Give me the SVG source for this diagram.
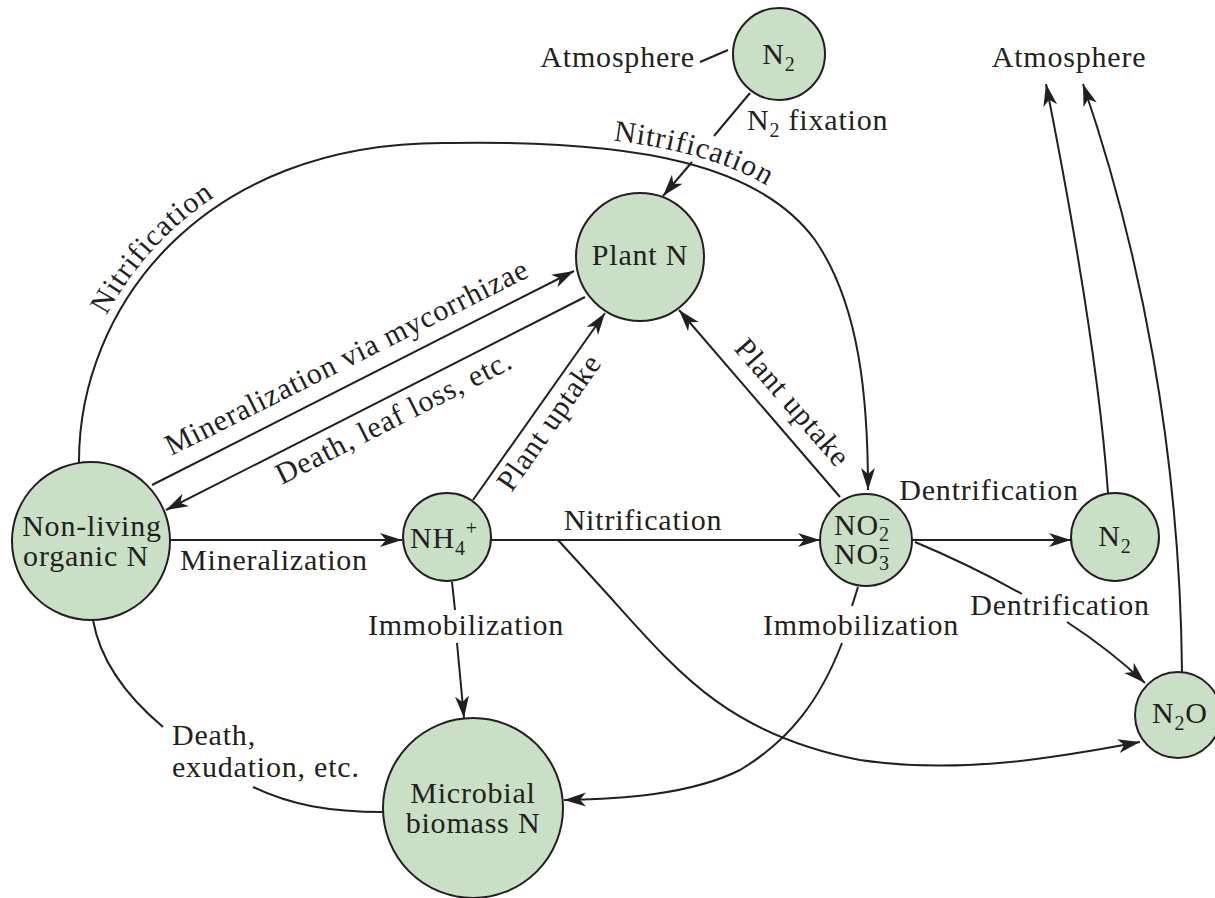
<svg xmlns="http://www.w3.org/2000/svg" width="1215" height="898" viewBox="0 0 1215 898">
<style>
.node{fill:#c9dfc6;stroke:#231f20;stroke-width:2}
.t{font-family:"Liberation Serif","Times New Roman",serif;font-size:30px;fill:#231f20;letter-spacing:0.8px}
.s{font-size:20px}
.c{fill:none;stroke:#231f20;stroke-width:2}
.m{text-anchor:middle}
.e{text-anchor:end}
</style>
<defs>
<marker id="ah" markerUnits="userSpaceOnUse" markerWidth="24" markerHeight="16" refX="22" refY="8" orient="auto">
<path d="M0,1 L22,8 L0,15 L6,8 Z" fill="#231f20"/>
</marker>
</defs>
<rect width="1215" height="898" fill="#ffffff"/>

<g id="connectors">
<path class="c" d="M700,62 L728,50"/>
<path class="c" d="M750,93 L714,136"/>
<path class="c" d="M692,162 L663,196" marker-end="url(#ah)"/>
<path id="bigarc" class="c" d="M79,463 C78,310 200,140 450,143 C640,140 760,165 815,240 C860,305 868,400 868,490" marker-end="url(#ah)"/>
<path class="c" d="M152,485 L574,271" marker-end="url(#ah)"/>
<path class="c" d="M585,297 L166,510" marker-end="url(#ah)"/>
<path class="c" d="M170,540 L402,540" marker-end="url(#ah)"/>
<path class="c" d="M473,500 L605,313" marker-end="url(#ah)"/>
<path class="c" d="M840,497 L679,310" marker-end="url(#ah)"/>
<path class="c" d="M490,540 L820,540" marker-end="url(#ah)"/>
<path class="c" d="M558,540 L610,597 C680,675 730,735 860,760 C960,775 1060,757 1140,742" marker-end="url(#ah)"/>
<path class="c" d="M912,540 L1071,540" marker-end="url(#ah)"/>
<path class="c" d="M915,542 Q970,565 1022,594"/>
<path class="c" d="M1067,622 Q1110,650 1145,683" marker-end="url(#ah)"/>
<path class="c" d="M1108,493 C1100,380 1075,230 1046,84" marker-end="url(#ah)"/>
<path class="c" d="M1182,672 C1180,450 1140,250 1083,84" marker-end="url(#ah)"/>
<path class="c" d="M452,582 L455,610"/>
<path class="c" d="M457,643 L464,718" marker-end="url(#ah)"/>
<path class="c" d="M858,587 L852,606"/>
<path class="c" d="M842,643 C820,700 790,740 740,770 C690,795 620,799 564,800" marker-end="url(#ah)"/>
<path class="c" d="M93,620 C100,660 125,695 163,727"/>
<path class="c" d="M253,787 C290,805 330,812 383,812"/>
</g>

<g id="labels">
<text class="t e" x="695" y="67">Atmosphere</text>
<text class="t m" x="1069" y="67">Atmosphere</text>
<text class="t" x="747" y="130">N<tspan class="s" dy="7">2</tspan><tspan dy="-7"> fixation</tspan></text>
<text class="t m" dy="-9"><textPath href="#bigarc" startOffset="228">Nitrification</textPath></text>
<text class="t m" dy="-9"><textPath href="#bigarc" startOffset="790">Nitrification</textPath></text>
<text class="t m" transform="translate(351,366) rotate(-26.6)">Mineralization via mycorrhizae</text>
<text class="t m" transform="translate(398,426) rotate(-26.9)">Death, leaf loss, etc.</text>
<text class="t m" transform="translate(557,428) rotate(-55)">Plant uptake</text>
<text class="t m" transform="translate(785,409) rotate(49)">Plant uptake</text>
<text class="t m" x="274" y="570">Mineralization</text>
<text class="t m" x="643" y="530">Nitrification</text>
<text class="t m" x="989" y="500">Dentrification</text>
<text class="t m" x="1060" y="615">Dentrification</text>
<text class="t m" x="466" y="635">Immobilization</text>
<text class="t m" x="861" y="635">Immobilization</text>
<text class="t" x="172" y="745">Death,</text>
<text class="t" x="172" y="777">exudation, etc.</text>
</g>

<g id="node-n2-top">
<circle class="node" cx="779" cy="54" r="46"/>
<text class="t m" x="779" y="64">N<tspan class="s" dy="7">2</tspan></text>
</g>
<g id="node-plant">
<circle class="node" cx="640" cy="257" r="64"/>
<text class="t m" x="640" y="265">Plant N</text>
</g>
<g id="node-nonliving">
<circle class="node" cx="91" cy="541" r="79"/>
<text class="t m" x="92" y="536">Non-living</text>
<text class="t m" x="86" y="566">organic N</text>
</g>
<g id="node-nh4">
<circle class="node" cx="447" cy="537" r="44"/>
<text class="t" x="410" y="548">NH<tspan class="s" dy="7">4</tspan><tspan class="s" dy="-20">+</tspan></text>
</g>
<g id="node-no">
<circle class="node" cx="866" cy="540" r="46"/>
<text class="t" x="834" y="535">NO<tspan class="s" dy="6">2</tspan><tspan class="s" dx="-11" dy="-15">−</tspan></text>
<text class="t" x="834" y="564">NO<tspan class="s" dy="6">3</tspan><tspan class="s" dx="-11" dy="-15">−</tspan></text>
</g>
<g id="node-n2-right">
<circle class="node" cx="1115" cy="537" r="44"/>
<text class="t m" x="1115" y="546">N<tspan class="s" dy="7">2</tspan></text>
</g>
<g id="node-n2o">
<circle class="node" cx="1178" cy="715" r="43"/>
<text class="t" x="1152" y="723">N<tspan class="s" dy="7">2</tspan><tspan dy="-7">O</tspan></text>
</g>
<g id="node-microbial">
<circle class="node" cx="473" cy="808" r="90"/>
<text class="t m" x="473" y="803">Microbial</text>
<text class="t m" x="473" y="833">biomass N</text>
</g>
</svg>
